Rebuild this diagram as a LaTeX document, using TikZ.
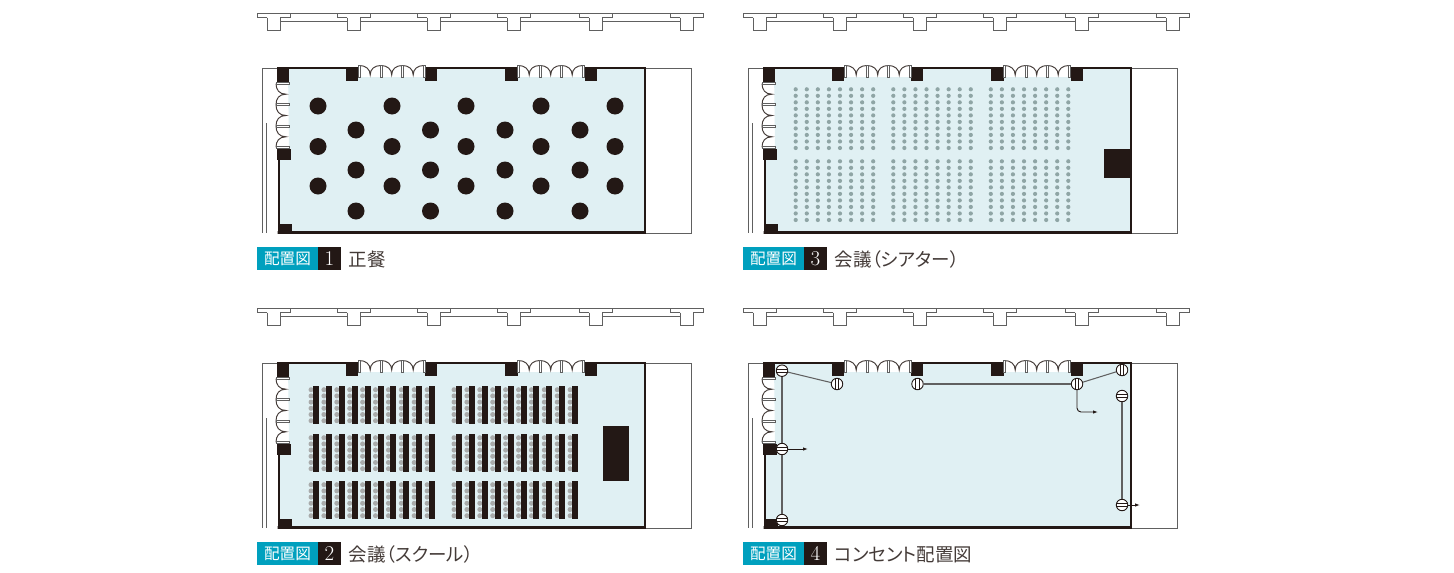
\documentclass[tikz,border=0pt]{standalone}
\usepackage{fontspec}
\usetikzlibrary{arrows.meta}
\newfontfamily\jpfont{Noto Sans CJK JP}
\newfontfamily\jpcap[RawFeature=+palt]{Noto Sans CJK JP}
\definecolor{ink}{HTML}{231815}
\definecolor{room}{HTML}{E0F0F3}
\definecolor{teal}{HTML}{00A0BE}
\definecolor{thin}{HTML}{606060}
\definecolor{chair}{HTML}{A9ABAB}
\definecolor{seat}{HTML}{8FA5A5}
\tikzset{
  thinline/.style={draw=thin,line width=0.95pt},
  wall/.style={draw=ink,line width=2.9pt},
  blockfill/.style={fill=ink},
  curtain/.style={draw=ink!85,line width=0.95pt},
  post/.style={draw=thin,fill=white,line width=0.8pt},
  tagbox/.style={fill=teal,text=white,minimum width=61pt,minimum height=23pt,inner sep=0pt,font=\jpfont\fontsize{15.6}{16}\selectfont},
  numbox/.style={fill=ink,text=white,minimum width=23pt,minimum height=23pt,inner sep=0pt,font=\fontsize{21}{21}\selectfont},
  captext/.style={anchor=west,inner sep=0pt,text=ink!85,font=\jpcap\fontsize{18.5}{19}\selectfont},
  outlet/.style={circle,draw=ink,fill=white,line width=0.9pt,minimum size=11.5pt,inner sep=0pt},
  outh/.style={outlet,path picture={
    \draw[ink,line width=1pt] ([yshift=1.7pt]path picture bounding box.west) -- ([yshift=1.7pt]path picture bounding box.east);
    \draw[ink,line width=1pt] ([yshift=-1.7pt]path picture bounding box.west) -- ([yshift=-1.7pt]path picture bounding box.east);}},
  outv/.style={outlet,path picture={
    \draw[ink,line width=1pt] ([xshift=1.7pt]path picture bounding box.south) -- ([xshift=1.7pt]path picture bounding box.north);
    \draw[ink,line width=1pt] ([xshift=-1.7pt]path picture bounding box.south) -- ([xshift=-1.7pt]path picture bounding box.north);}},
  wire/.style={draw=thin,line width=1.05pt},
  lead/.style={draw=ink,line width=0.9pt,-{Latex[length=5pt,width=3.5pt]}},
}
\newcommand{\topbay}[1]{%
  \draw[curtain] (#1,65.5) .. controls (#1+6,65.5) and (#1+10.7,69) .. (#1+10.7,75)
     .. controls (#1+10.7,69) and (#1+15,65.5) .. (#1+21.5,65.5);}
\newcommand{\leftbay}[1]{%
  \draw[curtain] (276,#1) .. controls (276,#1+6) and (279,#1+10.7) .. (286,#1+10.7)
     .. controls (279,#1+10.7) and (276,#1+15) .. (276,#1+21.3);}
\newcommand{\topposts}[1]{%
  \foreach \p in {0,21.5,43,64.5}{\draw[post] (#1+\p-1,65.5) rectangle (#1+\p+1,77);}}
\newcommand{\wallplan}{%
  \draw[thinline] (257,13) -- (703,13);
  \foreach \tx/\nx in {257/337,337/417,417/497,497/579,579/670}{
    \draw[thinline] (\tx+23,21.7) -- (\nx+10,21.7);}
  \foreach \tx in {257,337,417,497,579,670}{
    \draw[thinline] (\tx+10,17.5) -- (\tx,17.5) -- (\tx,13) -- (\tx+33,13) -- (\tx+33,17.5) -- (\tx+23,17.5);
    \draw[thinline] (\tx+10,17.5) -- (\tx+10,30) -- (\tx+23,30) -- (\tx+23,17.5);}
  \draw[thinline] (277,68) -- (262,68) -- (262,233);
  \draw[thinline] (266,123) -- (266,233);
  \draw[thinline] (645,68) -- (691,68) -- (691,233.5) -- (645,233.5);
  \fill[room] (288,68) -- (358,68) -- (358,77) -- (424,77) -- (424,68) -- (518,68) -- (518,77) -- (584,77) -- (584,68) -- (645,68) -- (645,232) -- (279,232) -- (279,150) -- (289,150) -- cycle;
  \draw[wall] (277,68) -- (346,68) (425,68) -- (506,68) (585,68) -- (645,68) -- (645,232.3) -- (277.6,232.3) -- (279,232.3) -- (279,150);
  \fill[blockfill] (276.7,66.5) rectangle (288.5,82);
  \fill[blockfill] (345.5,66.5) rectangle (358,81);
  \fill[blockfill] (425,66.5) rectangle (437,81);
  \fill[blockfill] (505,66.5) rectangle (517.5,81);
  \fill[blockfill] (585,66.5) rectangle (597,81);
  \fill[blockfill] (277,149) rectangle (290.5,159.5);
  \fill[blockfill] (277.5,223.5) rectangle (292,233.8);
  \foreach \b in {359.5,381,402.5}{\topbay{\b}}
  \foreach \b in {518.5,540,561.5}{\topbay{\b}}
  \topposts{359.5}\topposts{518.5}
  \foreach \b in {83.5,104.8,126.1}{\leftbay{\b}}
  \foreach \b in {83.5,104.8,126.1,147.4}{\draw[post] (276,\b-1) rectangle (289,\b+1);}
}
\newcommand{\planlegend}[5]{%
  \node[tagbox] (tag#1) at (#2+287.5,#3+258.5) {配置図};
  \node[numbox] (num#1) at (#2+329.5,#3+258.5) {#4};
  \node[captext] (cap#1) at (#2+348.5,#3+259.5) {#5};
}
\begin{document}
\begin{tikzpicture}[x=1pt,y=-1pt]
\useasboundingbox (0,0) rectangle (1454,573);
\fill[white] (0,0) rectangle (1454,573);
% ---------- panel 1
\begin{scope}[shift={(0,0)}]\wallplan\end{scope}
\foreach \x in {318,392,466,541,615}\foreach \y in {106,146.5,186}{\fill[ink] (\x,\y) circle (8.5pt);}
\foreach \x in {356,430.5,505,580}\foreach \y in {130,170,211}{\fill[ink] (\x,\y) circle (8.5pt);}
\planlegend{a}{0}{0}{1}{正餐}
% ---------- panel 3
\begin{scope}[shift={(486,0)}]\wallplan\end{scope}
\foreach \gx in {795.7,893.3,990.8}\foreach \i in {0,...,7}\foreach \j in {0,...,9}{
  \fill[seat] (\gx+\i*11.07,89.3+\j*6.52) circle (2.1pt);
  \fill[seat] (\gx+\i*11.07,161.3+\j*6.52) circle (2.1pt);}
\fill[blockfill] (1104,149) rectangle (1131,178);
\planlegend{c}{486}{0}{3}{会議（シアター）}
% ---------- panel 2
\begin{scope}[shift={(0,295)}]\wallplan\end{scope}
\foreach \gx in {313,456}\foreach \ty in {386,434,481}\foreach \i in {0,...,9}{
  \foreach \j in {0,...,5}{\fill[chair] (\gx+\i*12.9-2,\ty+3.7+\j*6.2) circle (2.5pt);}
  \fill[ink] (\gx+\i*12.9,\ty) rectangle (\gx+\i*12.9+6,\ty+38);}
\fill[blockfill] (603,426) rectangle (629,481);
\planlegend{b}{0}{295}{2}{会議（スクール）}
% ---------- panel 4
\begin{scope}[shift={(486,295)}]\wallplan\end{scope}
\node[outh] (oa) at (782,370.7) {};
\node[outv] (ob) at (837,384) {};
\node[outv] (oc) at (917.5,384) {};
\node[outv] (od) at (1077,384) {};
\node[outv] (oe) at (1122,370) {};
\node[outh] (of) at (1122,396) {};
\node[outh] (og) at (1122,505) {};
\node[outh] (oh) at (782,449) {};
\node[outh] (oi) at (782,520) {};
\coordinate (ah) at (808,449);
\coordinate (ad) at (1098,412);
\coordinate (ag) at (1140,505);
\draw[wire] (oa) -- (ob);
\draw[wire] (oa) -- (oh);
\draw[wire] (oh) -- (oi);
\draw[wire] (oc) -- (od);
\draw[wire] (od) -- (oe);
\draw[wire] (of) -- (og);
\draw[lead] (oh) -- (ah);
\draw[lead,rounded corners=4pt] (od) |- (ad);
\draw[lead] (og) -- (ag);
\planlegend{d}{486}{295}{4}{コンセント配置図}
\end{tikzpicture}
\end{document}
